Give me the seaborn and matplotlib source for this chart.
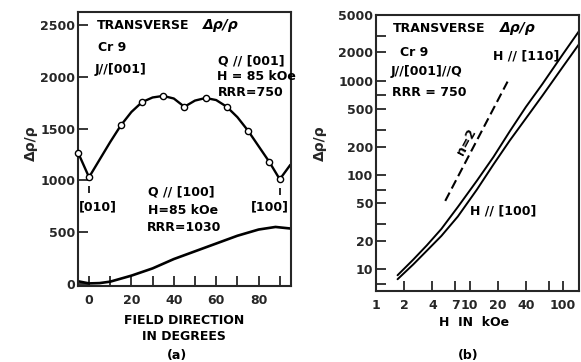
import matplotlib
matplotlib.use("Agg")
import matplotlib.pyplot as plt
import pandas as pd
import seaborn as sns
from matplotlib.ticker import FixedLocator, FixedFormatter, NullFormatter

# ---- (a) transverse magnetoresistance vs. field direction, H = 85 kOe ----
angle_q001 = [-5, 0, 5, 10, 15, 20, 25, 30, 35, 40, 45, 50, 55, 60, 65, 70, 75, 80, 85, 90, 95]
drho_q001 = [1260, 1030, 1200, 1370, 1530, 1660, 1755, 1800, 1815, 1790, 1710,
             1770, 1795, 1775, 1710, 1610, 1480, 1330, 1180, 1010, 1150]
meas_angle_q001 = [-5, 0, 15, 25, 35, 45, 55, 65, 75, 85, 90]
meas_drho_q001 = [1260, 1030, 1530, 1755, 1815, 1710, 1795, 1710, 1480, 1180, 1010]

angle_q100 = [-5, 0, 5, 10, 20, 30, 40, 50, 60, 70, 80, 88, 95]
drho_q100 = [25, 5, 8, 22, 80, 150, 240, 315, 390, 465, 525, 550, 535]

axis_angles = [0, 90]          # [010] and [100] directions
axis_names = ["[010]", "[100]"]

# ---- (b) transverse magnetoresistance vs. field, log-log ----
field = [1.7, 2.5, 3.5, 5, 7.5, 12, 18, 27, 40, 60, 100, 148]
drho_h110 = [8.6, 12.6, 17.9, 26.7, 45.7, 87, 155, 292, 527, 922, 1930, 3370]
drho_h100 = [7.8, 11.2, 15.7, 22.5, 36.2, 70, 129, 233, 398, 693, 1420, 2450]
n2_field = [5.5, 25.5]
n2_drho = [53, 980]

ytick_a = [0, 500, 1000, 1500, 2000, 2500]
xtick_a = [0, 10, 20, 30, 40, 50, 60, 70, 80, 90]
xlabel_a = ["0", "", "20", "", "40", "", "60", "", "80", ""]
ytick_b = [10, 20, 50, 100, 200, 500, 1000, 2000, 5000]
yminor_b = [7, 30, 70, 300, 700, 3000]
xtick_b = [1, 2, 4, 7, 10, 20, 40, 70, 100]
xlabel_b = ["1", "2", "4", "7", "10", "20", "40", "", "100"]

sns.set_style("ticks")
plt.rcParams["font.family"] = ["DejaVu Sans"]
plt.rcParams["font.weight"] = "bold"

W, H = 581, 362
fig = plt.figure(figsize=(W / 100, H / 100), dpi=100)


def fx(x):
    return x / W


def fy(y):
    return 1 - y / H


TXT = dict(fontsize=9, fontweight="bold", color="black")
RATIO = dict(fontsize=10, fontweight="bold", fontstyle="italic", color="black")

# ---------------- panel (a) ----------------
ax1 = fig.add_axes([fx(78), fy(286), fx(291 - 78), (286 - 12) / H])
sns.lineplot(x=angle_q001, y=drho_q001, ax=ax1, color="black", lw=1.7,
             sort=False, estimator=None)
sns.lineplot(x=angle_q100, y=drho_q100, ax=ax1, color="black", lw=1.9,
             sort=False, estimator=None)
sns.scatterplot(x=meas_angle_q001, y=meas_drho_q001, ax=ax1, s=20,
                facecolor="white", edgecolor="black", linewidth=1.0,
                zorder=5, clip_on=False)

# short pointers below the symmetry-direction points
for a in axis_angles:
    v = meas_drho_q001[meas_angle_q001.index(a)]
    ax1.vlines(a, v - 150, v - 80, color="black", lw=1.2)

ax1.set_xlim(-5.2, 95.3)
ax1.set_ylim(-20, 2625)
ax1.xaxis.set_major_locator(FixedLocator(xtick_a))
ax1.xaxis.set_major_formatter(FixedFormatter(xlabel_a))
ax1.yaxis.set_major_locator(FixedLocator(ytick_a))
ax1.tick_params(direction="in", length=7, width=1.3, labelsize=9, pad=6,
                top=False, right=False)
ax1.tick_params(axis="y", pad=2)
for s in ax1.spines.values():
    s.set_linewidth(1.5)
    s.set_visible(True)
ax1.set_xlabel("")
ax1.set_ylabel("")

fig.text(fx(97), fy(25.5), "TRANSVERSE", va="center", ha="left", **TXT)
fig.text(fx(203), fy(25.5), "Δρ/ρ", va="center", ha="left", **RATIO)
fig.text(fx(98), fy(47.5), "Cr 9", va="center", ha="left", **TXT)
fig.text(fx(95), fy(69), "J//[001]", va="center", ha="left", **TXT)
fig.text(fx(218), fy(61), "Q // [001]", va="center", ha="left", **TXT)
fig.text(fx(217), fy(76.5), "H = 85 kOe", va="center", ha="left", **TXT)
fig.text(fx(218), fy(92), "RRR=750", va="center", ha="left", **TXT)
fig.text(fx(148), fy(192), "Q // [100]", va="center", ha="left", **TXT)
fig.text(fx(148), fy(211), "H=85 kOe", va="center", ha="left", **TXT)
fig.text(fx(147), fy(228), "RRR=1030", va="center", ha="left", **TXT)
fig.text(fx(98), fy(207), axis_names[0], va="center", ha="center", **TXT)
fig.text(fx(270), fy(207), axis_names[1], va="center", ha="center", **TXT)

fig.text(fx(184), fy(320), "FIELD DIRECTION", va="center", ha="center", **TXT)
fig.text(fx(184), fy(336), "IN DEGREES", va="center", ha="center", **TXT)
fig.text(fx(177), fy(355), "(a)", va="center", ha="center", **TXT)
fig.text(fx(31), fy(143), "Δρ/ρ", va="center", ha="center", rotation=90,
         fontsize=10, fontweight="bold")

# ---------------- panel (b) ----------------
ax2 = fig.add_axes([fx(376), fy(291), fx(579 - 376), (291 - 15) / H])
df_b = pd.DataFrame({"H": field * 2,
                     "drho": drho_h110 + drho_h100,
                     "dir": ["H//[110]"] * len(field) + ["H//[100]"] * len(field)})
sns.lineplot(data=df_b, x="H", y="drho", units="dir", estimator=None,
             ax=ax2, color="black", lw=1.4, sort=False)
sns.lineplot(x=n2_field, y=n2_drho, ax=ax2, color="black", lw=1.5,
             dashes=False, estimator=None, sort=False)
ax2.lines[-1].set_dashes([4.5, 2.2])

ax2.set_xscale("log")
ax2.set_yscale("log")
ax2.set_xlim(1.0, 148)
ax2.set_ylim(5.85, 5000)
ax2.xaxis.set_major_locator(FixedLocator(xtick_b))
ax2.xaxis.set_major_formatter(FixedFormatter(xlabel_b))
ax2.xaxis.set_minor_locator(FixedLocator([]))
ax2.yaxis.set_major_locator(FixedLocator(ytick_b))
ax2.yaxis.set_major_formatter(FixedFormatter([str(v) for v in ytick_b]))
ax2.yaxis.set_minor_locator(FixedLocator(yminor_b))
ax2.yaxis.set_minor_formatter(NullFormatter())
ax2.tick_params(which="both", direction="in", length=7, width=1.3,
                labelsize=9, pad=6, top=False, right=False)
ax2.tick_params(axis="y", which="both", pad=2)
for s in ax2.spines.values():
    s.set_linewidth(1.5)
    s.set_visible(True)
ax2.set_xlabel("")
ax2.set_ylabel("")
if ax2.get_legend() is not None:
    ax2.get_legend().remove()

fig.text(fx(393), fy(28), "TRANSVERSE", va="center", ha="left", **TXT)
fig.text(fx(500), fy(28), "Δρ/ρ", va="center", ha="left", **RATIO)
fig.text(fx(400), fy(52), "Cr 9", va="center", ha="left", **TXT)
fig.text(fx(391), fy(72), "J//[001]//Q", va="center", ha="left", **TXT)
fig.text(fx(392), fy(92), "RRR = 750", va="center", ha="left", **TXT)
fig.text(fx(493), fy(56), "H // [110]", va="center", ha="left", **TXT)
fig.text(fx(470), fy(211), "H // [100]", va="center", ha="left", **TXT)
fig.text(fx(467), fy(142), "n=2", va="center", ha="center", rotation=62, **TXT)

fig.text(fx(474), fy(323), "H  IN  kOe", va="center", ha="center", **TXT)
fig.text(fx(468), fy(355), "(b)", va="center", ha="center", **TXT)
fig.text(fx(320), fy(143), "Δρ/ρ", va="center", ha="center", rotation=90,
         fontsize=10, fontweight="bold")

fig.savefig("out.png", dpi=100, facecolor="white")
